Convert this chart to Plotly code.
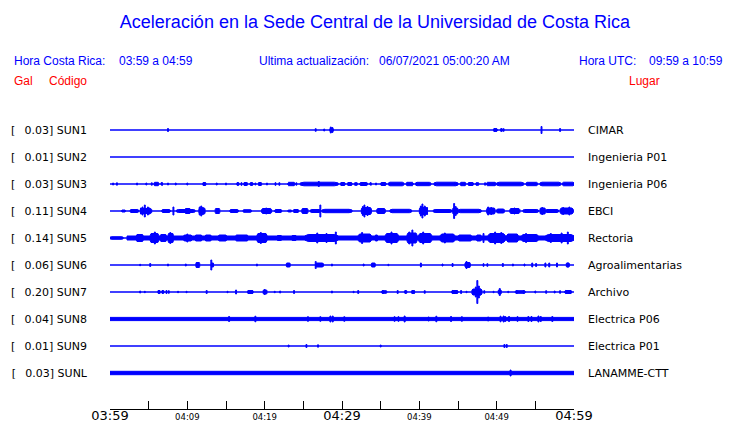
import plotly.graph_objects as go

# ---------------- data ----------------
station_codes = ["SUN1", "SUN2", "SUN3", "SUN4", "SUN5", "SUN6", "SUN7", "SUN8", "SUN9", "SUNL"]
peak_gal = [0.03, 0.01, 0.03, 0.11, 0.14, 0.06, 0.20, 0.04, 0.01, 0.03]
station_places = ["CIMAR", "Ingenieria P01", "Ingenieria P06", "EBCI", "Rectoria",
                  "Agroalimentarias", "Archivo", "Electrica P06", "Electrica P01", "LANAMME-CTT"]

# x axis: minutes after 03:59 (local time)
tick_minutes = [0, 5, 10, 15, 20, 25, 30, 35, 40, 45, 50, 55, 60]
tick_labels = ["03:59", "", "04:09", "", "04:19", "", "04:29", "", "04:39", "", "04:49", "", "04:59"]
major_labels = ["03:59", "04:29", "04:59"]

# envelope of each record
# blocks: (start minute, end minute, half amplitude), spikes: (minute, half amplitude)
sun1_blocks = [(28.4, 28.9, 1.5), (49.6, 50.1, 1.2), (50.5, 50.8, 1.0)]
sun1_spikes = [(7.5, 1.5), (26.6, 1.3), (27.7, 1.0), (28.55, 3.0), (28.75, 2.5), (49.7, 1.5),
               (49.9, 1.5), (50.6, 1.5), (50.9, 1.3), (55.8, 3.5), (58.2, 1.5)]

sun2_blocks = []
sun2_spikes = []

sun3_blocks = [(5.7, 6.3, 1.7), (6.6, 6.8, 1.5), (12.0, 12.4, 1.5), (16.4, 16.7, 1.3), (17.3, 17.7, 1.5),
               (18.1, 18.5, 1.3), (19.2, 19.6, 1.5), (23.0, 23.9, 1.7), (24.6, 29.5, 1.8), (29.8, 30.4, 1.5),
               (30.7, 31.3, 1.5), (31.6, 32.0, 1.3), (32.3, 33.3, 1.5), (33.6, 33.8, 1.3), (35.0, 35.7, 1.5),
               (36.0, 38.0, 1.8), (38.3, 39.2, 1.7), (39.5, 41.5, 1.7), (41.9, 45.0, 1.8), (45.3, 46.0, 1.7),
               (46.3, 47.0, 1.5), (47.3, 47.7, 1.3), (48.7, 49.9, 1.7), (50.0, 53.5, 1.8), (53.8, 55.3, 1.7),
               (55.6, 58.3, 1.8), (58.5, 60.0, 1.8)]
sun3_spikes = [(0.4, 1.0), (0.9, 1.2), (3.5, 1.0), (4.7, 1.0), (5.4, 1.2), (7.5, 1.0), (8.5, 1.0), (10.0, 1.0),
               (12.2, 1.5), (13.8, 1.0), (15.0, 1.0), (16.5, 1.3), (17.0, 1.3), (17.7, 1.3), (18.3, 1.3),
               (18.8, 1.0), (19.3, 1.3), (20.3, 1.0), (21.4, 1.3), (21.9, 1.3), (24.1, 1.2), (27.0, 2.5),
               (34.4, 1.0), (44.6, 1.2), (48.5, 1.2)]

sun4_blocks = [(1.5, 2.0, 1.0), (2.6, 3.7, 1.5), (3.9, 5.4, 2.5), (6.7, 7.8, 1.5), (8.6, 11.0, 1.5),
               (9.7, 10.4, 2.5), (11.5, 12.3, 3.0), (13.6, 14.2, 2.5), (15.5, 16.6, 1.5), (17.2, 18.3, 1.3),
               (19.6, 20.9, 2.5), (21.3, 22.2, 1.5), (23.0, 23.5, 1.0), (23.7, 24.4, 1.5), (24.8, 25.6, 2.5),
               (25.9, 27.2, 1.5), (27.4, 31.3, 1.7), (32.5, 33.8, 3.5), (34.5, 35.6, 2.5), (36.2, 39.0, 1.7),
               (40.0, 41.0, 3.5), (41.8, 44.2, 1.5), (44.3, 45.0, 3.0), (45.0, 48.0, 1.7), (48.7, 49.8, 3.0),
               (50.0, 51.0, 2.0), (51.7, 53.0, 2.5), (53.4, 55.4, 1.5), (55.6, 56.3, 3.0), (56.3, 58.0, 1.5),
               (58.2, 59.9, 3.0)]
sun4_spikes = [(4.0, 3.0), (4.2, 4.0), (4.5, 6.0), (4.9, 4.0), (5.1, 3.0), (8.2, 4.0), (11.6, 4.0),
               (11.8, 5.0), (12.0, 3.5), (20.2, 3.0), (27.2, 6.0), (32.7, 4.5), (32.9, 6.0), (33.3, 4.5),
               (33.5, 3.5), (40.2, 5.0), (40.4, 7.0), (40.7, 5.0), (41.0, 3.5), (44.5, 7.5), (44.7, 4.5),
               (48.9, 4.0), (49.3, 3.5), (52.3, 3.0), (55.9, 3.5), (58.6, 3.5), (59.4, 4.0)]

sun5_blocks = [(0.0, 1.7, 1.3), (2.2, 60.0, 2.0), (3.4, 4.3, 3.5), (5.2, 6.3, 4.5), (6.5, 7.3, 3.5),
               (7.5, 8.2, 4.5), (9.5, 10.6, 3.0), (11.0, 11.9, 3.0), (12.3, 13.1, 3.0), (14.0, 15.1, 3.0),
               (16.2, 17.9, 3.0), (19.0, 20.3, 4.5), (21.6, 22.2, 2.5), (23.5, 24.1, 2.5), (25.2, 29.5, 3.5),
               (32.1, 33.8, 4.0), (34.3, 34.6, 3.0), (35.6, 37.3, 4.5), (38.4, 39.7, 5.0), (39.9, 41.6, 4.5),
               (42.7, 44.6, 4.0), (45.0, 46.8, 3.0), (47.4, 48.0, 3.0), (48.9, 51.1, 4.5), (51.3, 52.8, 4.0),
               (53.2, 55.4, 3.5), (56.3, 60.0, 3.5)]
sun5_spikes = [(5.8, 6.0), (7.8, 5.5), (10.0, 4.0), (19.5, 5.5), (26.8, 5.0), (28.0, 4.5), (29.2, 6.0),
               (32.6, 5.5), (36.4, 6.0), (38.7, 6.0), (39.1, 8.0), (40.5, 6.0), (43.3, 5.0), (48.3, 4.5),
               (49.8, 6.0), (50.6, 5.5), (53.8, 4.5), (57.0, 4.5), (58.4, 5.0), (59.2, 6.0)]

sun6_blocks = [(11.1, 11.6, 2.5), (13.1, 13.4, 2.0), (22.8, 23.3, 2.0), (26.6, 27.6, 2.0), (33.8, 34.3, 2.0),
               (45.9, 46.6, 2.5), (59.0, 59.4, 2.0)]
sun6_spikes = [(3.9, 0.7), (5.2, 1.5), (7.5, 1.0), (9.8, 1.0), (11.3, 2.5), (13.1, 5.0), (19.0, 1.0),
               (26.6, 3.5), (28.7, 1.0), (32.8, 1.0), (36.0, 0.7), (40.2, 2.0), (43.0, 1.0), (44.3, 1.5),
               (46.1, 3.5), (48.3, 1.3), (48.8, 1.3), (50.8, 1.5), (52.1, 1.0), (53.6, 1.0), (54.6, 2.0),
               (55.1, 1.5), (56.3, 2.0), (56.8, 2.0), (57.8, 2.0), (59.2, 2.0)]

sun7_blocks = [(6.2, 6.5, 1.5), (6.7, 7.0, 1.3), (17.8, 18.5, 1.5), (19.8, 20.3, 2.0), (35.1, 35.8, 1.3),
               (38.1, 38.4, 1.3), (39.0, 39.4, 1.3), (44.2, 45.0, 1.5), (46.8, 48.1, 3.0), (50.2, 50.6, 2.0),
               (52.4, 53.7, 1.3), (58.8, 59.7, 1.5)]
sun7_spikes = [(3.9, 1.0), (4.5, 0.7), (6.3, 1.5), (6.8, 1.5), (7.3, 1.5), (7.6, 1.3), (8.8, 0.7), (9.9, 0.7),
               (12.5, 1.5), (15.2, 0.7), (16.3, 2.0), (17.9, 1.5), (18.4, 1.5), (20.0, 2.5), (21.3, 0.7),
               (22.0, 1.0), (23.8, 1.5), (28.7, 1.0), (31.5, 0.7), (32.1, 1.5), (35.3, 1.5), (37.2, 1.5),
               (38.2, 1.5), (39.1, 1.5), (39.3, 1.5), (40.7, 1.3), (44.3, 1.5), (44.8, 1.5), (45.4, 1.5),
               (46.1, 0.7), (47.3, 5.0), (47.5, 11.5), (47.7, 6.0), (47.9, 3.0), (48.4, 1.3), (49.6, 0.7),
               (50.4, 3.5), (51.5, 0.7), (52.6, 1.5), (53.5, 1.5), (55.0, 1.0), (56.4, 1.3), (57.5, 1.0),
               (58.2, 1.3), (59.0, 1.5), (59.5, 1.5)]

sun8_blocks = [(0.0, 60.0, 1.6)]
sun8_spikes = [(15.4, 2.5), (18.8, 2.8), (25.6, 2.3), (27.2, 2.3), (28.5, 3.0), (28.8, 3.0), (30.3, 2.3),
               (36.8, 2.3), (37.3, 2.3), (38.1, 3.0), (41.2, 2.0), (42.2, 2.8), (44.1, 2.5), (45.5, 2.3),
               (48.9, 2.0), (50.5, 2.8), (50.9, 3.0), (51.1, 2.5), (51.6, 2.5), (52.7, 2.3), (54.1, 2.5),
               (54.5, 2.5), (55.4, 3.0), (55.7, 2.5), (57.2, 2.5)]

sun9_blocks = []
sun9_spikes = [(23.1, 1.0), (25.4, 1.5), (26.9, 1.2), (35.0, 1.0), (51.0, 1.5), (51.3, 1.5)]

sunl_blocks = [(0.0, 60.0, 1.7)]
sunl_spikes = [(51.8, 3.0)]

all_blocks = [sun1_blocks, sun2_blocks, sun3_blocks, sun4_blocks, sun5_blocks,
              sun6_blocks, sun7_blocks, sun8_blocks, sun9_blocks, sunl_blocks]
all_spikes = [sun1_spikes, sun2_spikes, sun3_spikes, sun4_spikes, sun5_spikes,
              sun6_spikes, sun7_spikes, sun8_spikes, sun9_spikes, sunl_spikes]

# ---------------- styling / layout ----------------
BLUE = "#0000ff"
RED = "#ff0000"
PAGE = 8                      # default page margin of the html body
W, H = 740 - PAGE, 423 - PAGE
ROW = 27                      # trace spacing in y units
n = len(station_codes)
offsets = [ROW * (n - 1 - i) for i in range(n)]
Y_RANGE = [-36, ROW * n]
PL, PR, PT, PB = 110 - PAGE, 574 - PAGE, 103 - PAGE, 409 - PAGE
SPIKE_W = 0.12
ANN_PAD = 3


def px2paper(x, y):
    x = x - PAGE - ANN_PAD
    y = y - PAGE
    return (x - PL) / (PR - PL), (PB - y) / (PB - PT)


fig = go.Figure()

for i in range(n):
    off = offsets[i]
    xs, ys = [], []
    for (t0, t1, a) in all_blocks[i]:
        d = 0.1 * (t1 - t0) if (t1 - t0) < 5 else 0
        xs += [t0, t0 + d, t1 - d, t1, t1, t1 - d, t0 + d, t0, t0, None]
        ys += [off + 0.6 * a, off + a, off + a, off + 0.6 * a, off - 0.6 * a, off - a, off - a,
               off - 0.6 * a, off + 0.6 * a, None]
    for (t, a) in all_spikes[i]:
        xs += [t - SPIKE_W / 2, t + SPIKE_W / 2, t + SPIKE_W / 2, t - SPIKE_W / 2, t - SPIKE_W / 2, None]
        ys += [off + a, off + a, off - a, off - a, off + a, None]
    # baseline
    fig.add_trace(go.Scatter(x=[0, 60], y=[off, off], mode="lines",
                             line=dict(color=BLUE, width=1.3), hoverinfo="skip",
                             showlegend=False, yaxis="y2"))
    if xs:
        fig.add_trace(go.Scatter(x=xs, y=ys, mode="lines", fill="toself", fillcolor=BLUE,
                                 line=dict(color=BLUE, width=1), hoverinfo="skip",
                                 showlegend=False))

left_text = [f"[\u00a0\u00a0\u2009{g:.2f}] {c}" for g, c in zip(peak_gal, station_codes)]

big_set = set(major_labels)
ticktext = [f"<span style='font-size:13px'>{t}</span>" if t in big_set else t for t in tick_labels]

fig.update_layout(
    width=W, height=H,
    margin=dict(l=PL, r=W - PR, t=PT, b=H - PB, autoexpand=False),
    paper_bgcolor="white", plot_bgcolor="white",
    font=dict(family="DejaVu Sans", size=11, color="black"),
    title=dict(text="Aceleración en la Sede Central de la Universidad de Costa Rica",
               x=(375 - PAGE) / W, xref="container", xanchor="center",
               y=1 - (22 - PAGE) / H, yref="container", yanchor="middle",
               font=dict(family="Liberation Sans", size=18, color=BLUE)),
    xaxis=dict(range=[0, 60], tickmode="array", tickvals=tick_minutes, ticktext=ticktext,
               ticks="inside", ticklen=8, tickcolor="black", tickwidth=1,
               showline=True, linecolor="black", linewidth=1, showgrid=False, zeroline=False,
               tickfont=dict(family="DejaVu Sans", size=8.5, color="black"),
               ticklabelstandoff=0,
               automargin=False, fixedrange=True),
    yaxis=dict(range=Y_RANGE, tickmode="array", tickvals=offsets, ticktext=left_text,
               showgrid=False, zeroline=False, showline=False, ticks="",
               ticklabelstandoff=22, tickfont=dict(family="DejaVu Sans", size=11, color="black"),
               automargin=False, fixedrange=True),
    yaxis2=dict(range=Y_RANGE, overlaying="y", side="right", tickmode="array",
                tickvals=offsets, ticktext=station_places,
                showgrid=False, zeroline=False, showline=False, ticks="",
                ticklabelstandoff=13, tickfont=dict(family="DejaVu Sans", size=11, color="black"),
                automargin=False, fixedrange=True),
)

header = [
    ("Hora Costa Rica:", 15, 61, BLUE),
    ("03:59 a 04:59", 120, 61, BLUE),
    ("Ultima actualización:", 260, 61, BLUE),
    ("06/07/2021 05:00:20 AM", 380, 61, BLUE),
    ("Hora UTC:", 580, 61, BLUE),
    ("09:59 a 10:59", 650, 61, BLUE),
    ("Gal", 15, 81, RED),
    ("Código", 50, 81, RED),
    ("Lugar", 630, 81, RED),
]
for text, x, y, col in header:
    px, py = px2paper(x, y)
    fig.add_annotation(text=text, x=px, y=py, xref="paper", yref="paper",
                       xanchor="left", yanchor="middle", showarrow=False,
                       font=dict(family="Liberation Sans", size=12, color=col))

fig.write_html("out.html")
